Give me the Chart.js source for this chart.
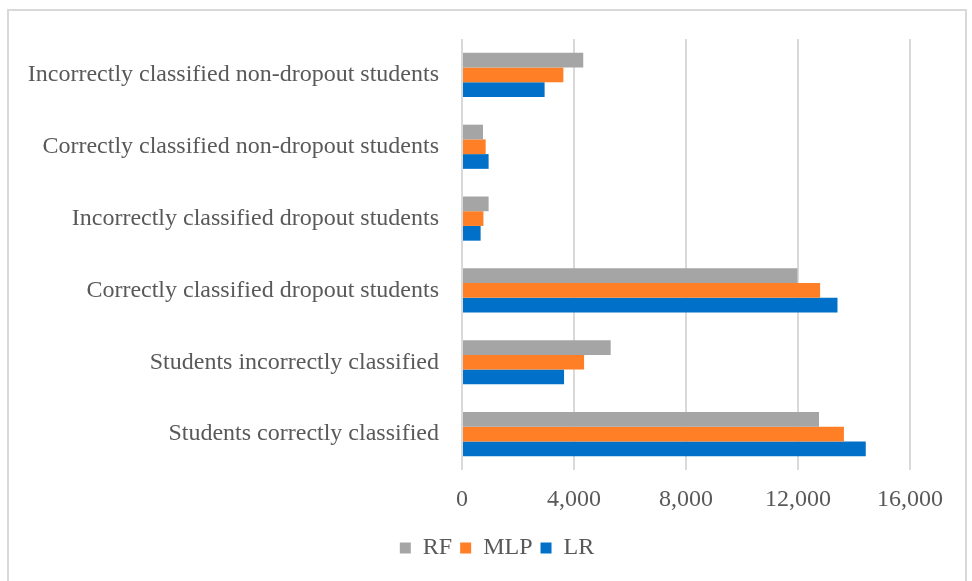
<!DOCTYPE html>
<html>
<head>
<meta charset="utf-8">
<script src="https://cdn.jsdelivr.net/npm/chart.js@4"></script>
<style>
  html, body { margin: 0; padding: 0; background: #fff; }
  #wrap { position: relative; width: 972px; height: 581px; overflow: hidden; }
  #frame { position: absolute; left: 7px; top: 9px; width: 960px; height: 590px; border: 2px solid #d9d9d9; box-sizing: border-box; }
  canvas { position: absolute; left: 0; top: 0; }
</style>
</head>
<body>
<div id="wrap">
  <div id="frame"></div>
  <canvas id="c" width="972" height="581"></canvas>
</div>
<script>
const categories = [
  "Incorrectly classified non-dropout students",
  "Correctly classified non-dropout students",
  "Incorrectly classified dropout students",
  "Correctly classified dropout students",
  "Students incorrectly classified",
  "Students correctly classified"
];
const seriesNames = ["RF", "MLP", "LR"];
const rfValues  = [4330, 750, 950, 11980, 5310, 12750];
const mlpValues = [3620, 845, 765, 12790, 4360, 13640];
const lrValues  = [2950, 950, 665, 13410, 3645, 14420];
const xTicks = [0, 4000, 8000, 12000, 16000];
const colors = ["#A5A5A5", "#FF7F27", "#0070C8"];

const font = { family: "'Liberation Serif', 'Times New Roman', serif", size: 24 };
const textColor = "#595959";

// shift legend horizontally so that it is centred like the reference
const legendShift = {
  id: "legendShift",
  afterLayout(chart) {
    const lg = chart.legend;
    if (lg) { lg.left += 42; lg.right += 42; }
  }
};

new Chart(document.getElementById("c"), {
  type: "bar",
  data: {
    labels: categories,
    datasets: [rfValues, mlpValues, lrValues].map((d, i) => ({
      label: seriesNames[i],
      data: d,
      backgroundColor: colors[i],
      borderWidth: 0,
      categoryPercentage: 0.615,
      barPercentage: 1.0
    }))
  },
  plugins: [legendShift],
  options: {
    indexAxis: "y",
    responsive: false,
    animation: false,
    layout: { padding: { left: 0, right: 62, top: 39, bottom: 11 } },
    plugins: {
      legend: {
        position: "bottom",
        labels: {
          font: font, color: textColor,
          boxWidth: 11, boxHeight: 11, padding: 8
        }
      },
      tooltip: { enabled: false }
    },
    scales: {
      x: {
        min: 0, max: 16000,
        afterBuildTicks: s => { s.ticks = xTicks.map(v => ({ value: v })); },
        afterFit: s => { s.height = 58; },
        grid: { color: "#d9d9d9", lineWidth: 2, drawTicks: false },
        border: { display: false },
        ticks: {
          font: font, color: textColor, padding: 15,
          callback: v => v.toLocaleString("en-US")
        }
      },
      y: {
        afterFit: s => { s.width = 462; },
        grid: { display: false, drawTicks: false },
        border: { display: false },
        ticks: { font: font, color: textColor, padding: 23, autoSkip: false }
      }
    }
  }
});
</script>
</body>
</html>
